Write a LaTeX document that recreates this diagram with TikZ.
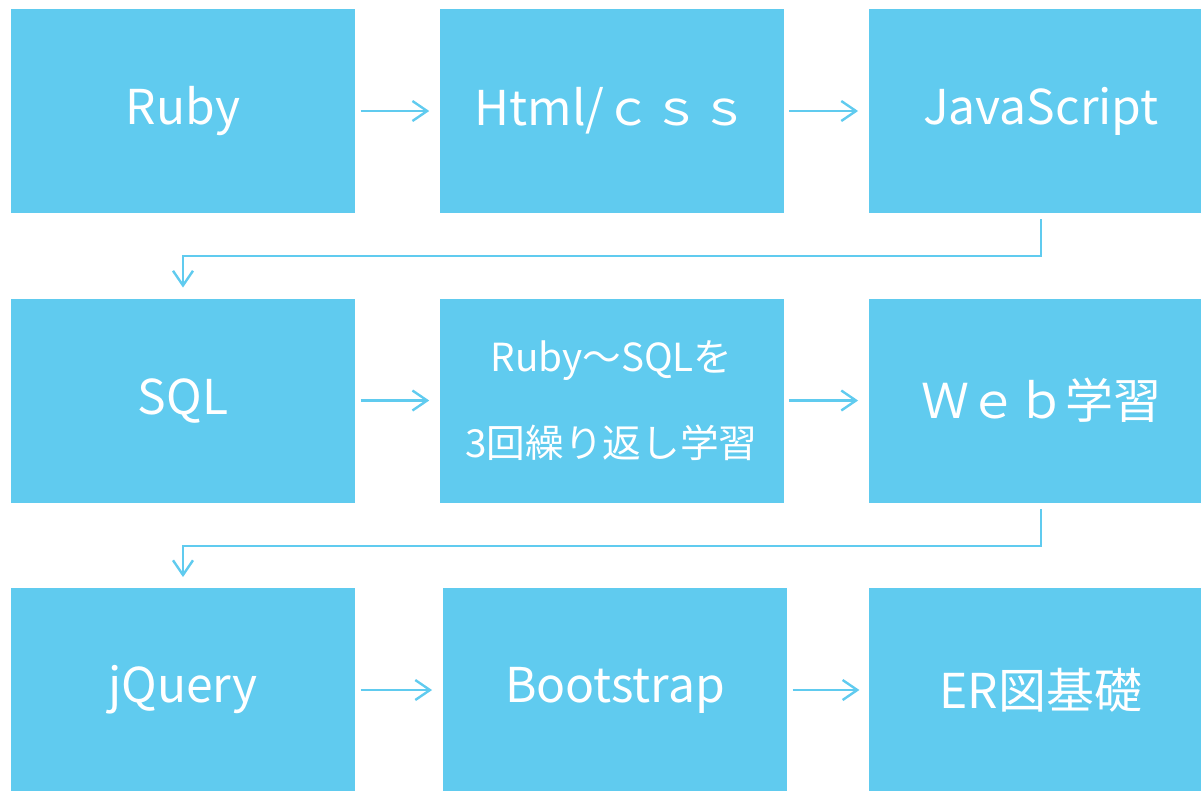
\documentclass[tikz,border=0pt]{standalone}
\usepackage{fontspec}
\setmainfont{Noto Sans CJK JP}
\usetikzlibrary{arrows.meta}
\definecolor{boxblue}{RGB}{96,203,239}

\begin{document}
\begin{tikzpicture}[x=0.75pt, y=-0.75pt,
    main/.style = {fill=boxblue, text=white, minimum width=258pt, minimum height=153pt, inner sep=0pt, font=\fontsize{36}{43}\selectfont},
    link/.style = {draw=boxblue, line width=1.8pt, -{Straight Barb[length=11pt,width=15pt,line width=1.8pt]}}]
    \useasboundingbox (0,0) rectangle (1201,790);
    \node[main] (ruby) at (183,111) {Ruby};
    \node[main] (html) at (611.5,111) {Html/ｃｓｓ};
    \node[main] (js) at (1041,111) {JavaScript};
    \node[main] (sql) at (183,400.5) {SQL};
    \node[main, align=center, font=\fontsize{29}{65}\selectfont] (rep) at (611.5,400.5) {Ruby～SQLを\\3回繰り返し学習};
    \node[main] (web) at (1041,400.5) {Ｗｅｂ学習};
    \node[main] (jq) at (183,690) {jQuery};
    \node[main] (boot) at (615,690) {Bootstrap};
    \node[main] (er) at (1041,690) {ER図基礎};

    \draw[link, shorten <=4pt, shorten >=7.5pt] (ruby) -- (html);
    \draw[link, shorten <=4pt, shorten >=8pt] (html) -- (js);
    \draw[link, shorten <=4.5pt, shorten >=8pt] (js.south) -- ++(0,43) -| (sql.north);
    \draw[link, shorten <=4pt, shorten >=7.5pt] (sql) -- (rep);
    \draw[link, shorten <=4pt, shorten >=8pt] (rep) -- (web);
    \draw[link, shorten <=4.5pt, shorten >=8pt] (web.south) -- ++(0,43) -| (jq.north);
    \draw[link, shorten <=4pt, shorten >=8pt] (jq) -- (boot);
    \draw[link, shorten <=4pt, shorten >=7pt] (boot) -- (er);
\end{tikzpicture}
\end{document}
